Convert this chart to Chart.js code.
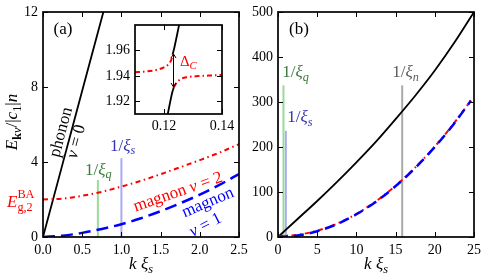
<!DOCTYPE html>
<html>
<head>
<meta charset="utf-8">
<script src="https://cdn.jsdelivr.net/npm/chart.js@4.4.0/dist/chart.umd.min.js"></script>
<style>
  html, body { margin: 0; padding: 0; background: #fff; }
  #wrap { position: relative; width: 484px; height: 280px; overflow: hidden; }
  canvas { position: absolute; }
</style>
</head>
<body>
<div id="wrap">
  <canvas id="pa" width="250" height="280" style="left:0;top:0"></canvas>
  <canvas id="pb" width="244" height="280" style="left:240px;top:0"></canvas>
  <canvas id="pi" width="145" height="125" style="left:95px;top:15px"></canvas>
</div>
<script>
// ---- panel (a) data: k xi_s vs E/|c1|n
const kA = [0, 0.25, 0.5, 0.75, 1.0, 1.25, 1.5, 1.75, 2.0, 2.25, 2.5];
const magnon2A = [2.0, 2.05, 2.2, 2.41, 2.69, 3.0, 3.35, 3.72, 4.1, 4.5, 4.95];
const magnon1A = [0, 0.07, 0.22, 0.43, 0.68, 1.0, 1.38, 1.8, 2.26, 2.78, 3.36];
const kPhononA = [0, 0.25, 0.5, 0.77];
const phononA = [0, 3.9, 7.8, 12.0];
const gapE = 2.0;

// ---- panel (b) data
const kB = [0, 2.5, 5, 7.5, 10, 12.5, 15, 17.5, 20, 22.5, 25];
const phononB = [0, 40, 80, 122, 166, 212, 262, 314, 370, 432, 500];
const kMagB = [0, 2.5, 5, 7.5, 10, 12.5, 15, 17.5, 20, 22.5, 24.6];
const magnon1B = [0, 3.4, 12.8, 28.4, 50.5, 78.5, 113, 153.5, 200, 253, 303];
const magnon2B = [2, 4.9, 14, 29.5, 51.5, 79.5, 114, 154.5, 201, 254, 303.5];

// ---- 1/xi markers
const kQ = 0.7, kS = 1.0, kN = 15.84;
const markTopA = { q: 3.04, s: 4.2 };
const markTopB = { q: 337, s: 236, n: 337 };

// ---- inset (avoided crossing)
const upRedK = [0.110, 0.113, 0.116, 0.118, 0.120, 0.1215, 0.1225, 0.1230];
const upRedE = [1.9428, 1.9433, 1.9441, 1.9450, 1.9466, 1.9490, 1.9525, 1.9570];
const upBlackK = [0.1230, 0.1236, 0.1252];
const upBlackE = [1.9570, 1.9625, 1.9800];
const lowBlackK = [0.1213, 0.1229, 0.1234];
const lowBlackE = [1.9100, 1.9275, 1.9310];
const lowRedK = [0.1234, 0.1240, 0.1250, 0.1262, 0.128, 0.132, 0.136, 0.140];
const lowRedE = [1.9310, 1.9335, 1.9362, 1.9380, 1.9390, 1.9398, 1.9403, 1.9407];
const arrowK = 0.1232, arrowE = [1.9312, 1.9572];

// ---- ticks
const ticksAx = [0, 0.5, 1, 1.5, 2, 2.5];
const ticksAy = [0, 4, 8, 12];
const ticksBx = [0, 5, 10, 15, 20, 25];
const ticksBy = [0, 100, 200, 300, 400, 500];
const ticksIx = [0.12, 0.14];
const ticksIy = [1.92, 1.94, 1.96];

const SERIF = '"Liberation Serif", "DejaVu Serif", "Noto Serif", Times, serif';
const RED = '#ff0000', BLUE = '#0000ff';
const GREEN_LINE = '#9adb9a', LAV_LINE = '#aaaaf4', GRAY_LINE = '#aaaaaa';
const GREEN_TXT = '#3c7a3c', BLUE_TXT = '#3434b0', GRAY_TXT = '#5c5c5c';

const pts = (xs, ys) => xs.map((x, i) => ({ x: x, y: ys[i] }));

function fontOf(st, size) {
  return (st === 'i' ? 'italic ' : '') + (st === 'b' ? 'bold ' : '') + size + 'px ' + SERIF;
}

// parts: [text, style, dy(em, 0 = normal size), stackOnPrevious]
function mathText(ctx, parts, x, y, o) {
  const size = o.size || 17;
  const items = [];
  let cx = 0, w = 0, lastStart = 0;
  parts.forEach(p => {
    const t = p[0], st = p[1], dy = p[2] || 0, stack = p[3];
    const fs = dy ? size * 0.72 : size;
    const font = fontOf(st, fs);
    ctx.font = font;
    const start = stack ? lastStart : cx;
    items.push({ t: t, font: font, x: start, dy: dy * size });
    lastStart = start;
    cx = start + ctx.measureText(t).width;
    w = Math.max(w, cx);
  });
  ctx.save();
  ctx.translate(x, y);
  if (o.angle) ctx.rotate(o.angle * Math.PI / 180);
  ctx.textBaseline = 'alphabetic';
  ctx.textAlign = 'left';
  const x0 = o.align === 'center' ? -w / 2 : 0;
  const y0 = o.mid ? 0.3 * size : 0;
  items.forEach(it => {
    ctx.font = it.font;
    ctx.fillStyle = o.color || '#000';
    ctx.fillText(it.t, x0 + it.x, y0 + it.dy);
  });
  ctx.restore();
}

function frameTicks(chart, xt, yt, len) {
  const ctx = chart.ctx, a = chart.chartArea, sx = chart.scales.x, sy = chart.scales.y;
  ctx.save();
  ctx.strokeStyle = '#000';
  ctx.lineWidth = 1;
  ctx.beginPath();
  xt.forEach(v => {
    const px = Math.round(sx.getPixelForValue(v)) + 0.5;
    ctx.moveTo(px, a.bottom); ctx.lineTo(px, a.bottom - len);
    ctx.moveTo(px, a.top); ctx.lineTo(px, a.top + len);
  });
  yt.forEach(v => {
    const py = Math.round(sy.getPixelForValue(v)) + 0.5;
    ctx.moveTo(a.left, py); ctx.lineTo(a.left + len, py);
    ctx.moveTo(a.right, py); ctx.lineTo(a.right - len, py);
  });
  ctx.stroke();
  ctx.lineWidth = 1.7;
  ctx.strokeRect(a.left, a.top, a.right - a.left, a.bottom - a.top);
  ctx.restore();
}

function xAxis(min, max, ticks, fmt, h, pad) {
  return {
    type: 'linear', min: min, max: max,
    afterBuildTicks: s => { s.ticks = ticks.map(v => ({ value: v })); },
    ticks: { callback: fmt, color: '#000', font: { family: SERIF, size: 14 }, padding: pad, maxRotation: 0, autoSkip: false },
    grid: { display: false, drawTicks: false },
    border: { display: false },
    afterFit: s => { s.height = h; s.paddingLeft = 0; s.paddingRight = 0; }
  };
}
function yAxis(min, max, ticks, fmt, w, pad) {
  return {
    type: 'linear', min: min, max: max,
    afterBuildTicks: s => { s.ticks = ticks.map(v => ({ value: v })); },
    ticks: { callback: fmt, color: '#000', font: { family: SERIF, size: 14 }, padding: pad, autoSkip: false },
    grid: { display: false, drawTicks: false },
    border: { display: false },
    afterFit: s => { s.width = w; s.paddingTop = 0; s.paddingBottom = 0; }
  };
}

function line(data, color, width, dash, order) {
  return {
    data: data, borderColor: color, borderWidth: width, borderDash: dash || [],
    pointRadius: 0, showLine: true, fill: false, cubicInterpolationMode: 'monotone',
    borderCapStyle: 'butt', order: order
  };
}

const baseOpts = {
  responsive: false, animation: false, devicePixelRatio: 1,
  plugins: { legend: { display: false }, tooltip: { enabled: false } },
  events: []
};

// ---------- panel (a)
new Chart(document.getElementById('pa'), {
  type: 'scatter',
  data: {
    datasets: [
      line(pts(kA, magnon1A), BLUE, 2.5, [12, 6], 1),
      line(pts(kA, magnon2A), RED, 2, [5, 3.5, 1.5, 3.5], 2),
      line(pts(kPhononA, phononA), '#000', 1.8, null, 3),
      line(pts([kQ, kQ], [0, markTopA.q]), GREEN_LINE, 2, null, 5),
      line(pts([kS, kS], [0, markTopA.s]), LAV_LINE, 2, null, 5)
    ]
  },
  options: Object.assign({}, baseOpts, {
    layout: { padding: { left: 0, top: 12, right: 11, bottom: 0 } },
    scales: {
      x: xAxis(0, 2.5, ticksAx, v => v.toFixed(1), 43, 5),
      y: yAxis(0, 12, ticksAy, v => String(v), 43, 5)
    }
  }),
  plugins: [{
    id: 'decoA',
    afterDraw(chart) {
      const ctx = chart.ctx, a = chart.chartArea, sx = chart.scales.x, sy = chart.scales.y;
      frameTicks(chart, ticksAx, ticksAy, 5);
      const X = v => sx.getPixelForValue(v), Y = v => sy.getPixelForValue(v);
      mathText(ctx, [['(a)', 'r']], a.left + 20, a.top + 22, { align: 'center' });
      mathText(ctx, [['phonon', 'r']], X(0.225), Y(5.6), { align: 'center', mid: true, angle: -75 });
      mathText(ctx, [['ν', 'i'], [' = 0', 'r']], X(0.42), Y(5.1), { align: 'center', mid: true, angle: -75 });
      mathText(ctx, [['magnon ', 'r'], ['ν', 'i'], [' = 2', 'r']], X(1.72), Y(2.42), { align: 'center', mid: true, angle: -19, color: RED });
      mathText(ctx, [['magnon', 'r']], X(2.1), Y(1.86), { align: 'center', mid: true, angle: -23, color: BLUE });
      mathText(ctx, [['ν', 'i'], [' = 1', 'r']], X(2.07), Y(0.66), { align: 'center', mid: true, angle: -27, color: BLUE });
      mathText(ctx, [['1/', 'r'], ['ξ', 'i'], ['q', 'i', 0.22]], X(0.536), Y(3.32), { color: GREEN_TXT });
      mathText(ctx, [['1/', 'r'], ['ξ', 'i'], ['s', 'i', 0.22]], X(0.855), Y(4.61), { color: BLUE_TXT });
      mathText(ctx, [['E', 'i'], ['BA', 'r', -0.5], ['g,2', 'r', 0.25, true]], 7, Y(gapE) + 7, { color: RED });
      mathText(ctx, [['E', 'i'], ['k', 'b', 0.22], ['ν', 'i', 0.22], ['/|', 'r'], ['c', 'i'], ['1', 'r', 0.22], ['|', 'r'], ['n', 'i']],
        12, 122, { align: 'center', mid: true, angle: -90 });
      mathText(ctx, [['k ', 'i'], ['ξ', 'i'], ['s', 'i', 0.22]], (a.left + a.right) / 2, 269, { align: 'center' });
    }
  }]
});

// ---------- panel (b)
new Chart(document.getElementById('pb'), {
  type: 'scatter',
  data: {
    datasets: [
      line(pts(kMagB, magnon1B), BLUE, 2.5, [10, 6], 1),
      line(pts(kMagB, magnon2B), RED, 2, [5, 3.5, 1.5, 3.5], 2),
      line(pts(kB, phononB), '#000', 1.8, null, 3),
      line(pts([kQ, kQ], [0, markTopB.q]), GREEN_LINE, 2, null, 5),
      line(pts([kS, kS], [0, markTopB.s]), LAV_LINE, 2, null, 5),
      line(pts([kN, kN], [0, markTopB.n]), GRAY_LINE, 2, null, 5)
    ]
  },
  options: Object.assign({}, baseOpts, {
    layout: { padding: { left: 0, top: 12, right: 10, bottom: 0 } },
    scales: {
      x: xAxis(0, 25, ticksBx, v => String(v), 43, 5),
      y: yAxis(0, 500, ticksBy, v => String(v), 38, 5)
    }
  }),
  plugins: [{
    id: 'decoB',
    afterDraw(chart) {
      const ctx = chart.ctx, a = chart.chartArea, sx = chart.scales.x, sy = chart.scales.y;
      frameTicks(chart, ticksBx, ticksBy, 5);
      const X = v => sx.getPixelForValue(v), Y = v => sy.getPixelForValue(v);
      mathText(ctx, [['(b)', 'r']], a.left + 21, a.top + 22, { align: 'center' });
      mathText(ctx, [['1/', 'r'], ['ξ', 'i'], ['q', 'i', 0.22]], X(0.54), Y(356), { color: GREEN_TXT });
      mathText(ctx, [['1/', 'r'], ['ξ', 'i'], ['s', 'i', 0.22]], X(1.17), Y(256), { color: BLUE_TXT });
      mathText(ctx, [['1/', 'r'], ['ξ', 'i'], ['n', 'i', 0.22]], X(14.57), Y(356), { color: GRAY_TXT });
      mathText(ctx, [['k ', 'i'], ['ξ', 'i'], ['s', 'i', 0.22]], (a.left + a.right) / 2, 269, { align: 'center' });
    }
  }]
});

// ---------- inset
new Chart(document.getElementById('pi'), {
  type: 'scatter',
  data: {
    datasets: [
      line(pts(upRedK, upRedE), RED, 2, [5, 3, 1.5, 3], 2),
      line(pts(lowRedK, lowRedE), RED, 2, [5, 3, 1.5, 3], 2),
      line(pts(upBlackK, upBlackE), '#000', 1.8, null, 1),
      line(pts(lowBlackK, lowBlackE), '#000', 1.8, null, 1)
    ]
  },
  options: Object.assign({}, baseOpts, {
    layout: { padding: { left: 0, top: 10, right: 18, bottom: 0 } },
    scales: {
      x: xAxis(0.11, 0.14, ticksIx, v => v.toFixed(2), 26, 4),
      y: yAxis(1.91, 1.98, ticksIy, v => v.toFixed(2), 40, 5)
    }
  }),
  plugins: [{
    id: 'decoI',
    beforeDraw(chart) {
      const ctx = chart.ctx, a = chart.chartArea;
      ctx.save();
      ctx.fillStyle = '#fff';
      ctx.fillRect(a.left, a.top, a.right - a.left, a.bottom - a.top);
      ctx.restore();
    },
    afterDraw(chart) {
      const ctx = chart.ctx, sx = chart.scales.x, sy = chart.scales.y;
      frameTicks(chart, ticksIx, ticksIy, 5);
      const X = v => sx.getPixelForValue(v), Y = v => sy.getPixelForValue(v);
      const ax = Math.round(X(arrowK)) + 0.5, y1 = Y(arrowE[0]), y2 = Y(arrowE[1]);
      ctx.save();
      ctx.strokeStyle = '#000';
      ctx.lineWidth = 1;
      ctx.beginPath();
      ctx.moveTo(ax, y1); ctx.lineTo(ax, y2);
      ctx.moveTo(ax - 2.5, y2 + 4); ctx.lineTo(ax, y2); ctx.lineTo(ax + 2.5, y2 + 4);
      ctx.moveTo(ax - 2.5, y1 - 4); ctx.lineTo(ax, y1); ctx.lineTo(ax + 2.5, y1 - 4);
      ctx.stroke();
      ctx.restore();
      mathText(ctx, [['Δ', 'r'], ['C', 'i', 0.22]], X(0.1255), Y(1.9477), { size: 15, color: RED });
    }
  }]
});
</script>
</body>
</html>
